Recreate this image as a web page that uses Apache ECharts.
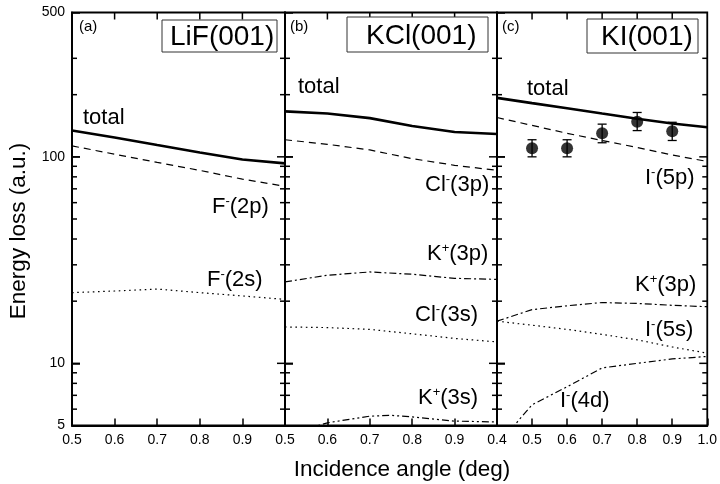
<!DOCTYPE html>
<html>
<head>
<meta charset="utf-8">
<script src="https://cdn.jsdelivr.net/npm/echarts@6/dist/echarts.min.js"></script>
<style>html,body{margin:0;padding:0;background:#fff}#c{width:720px;height:484px}</style>
</head>
<body>
<div id="c"></div>
<script>
// ---- data ----
const xA = [0.5, 0.6, 0.7, 0.8, 0.9, 1.0];
const totalA = [134, 124, 114, 105, 97, 93];
const f2p = [113, 103, 94, 86, 78, 72];
const f2s = [22.0, 22.4, 22.9, 22.0, 21.2, 20.4];

const xB = [0.5, 0.6, 0.7, 0.8, 0.9, 1.0];
const totalB = [166, 162, 154, 141, 132, 129];
const cl3p = [121, 115, 108, 98, 91, 86];
const k3pB = [24.8, 26.7, 27.7, 27.0, 25.8, 25.5];
const cl3s = [15.0, 14.9, 14.6, 13.9, 13.2, 12.7];
const xK3s = [0.5, 0.55, 0.6, 0.7, 0.75, 0.8, 0.9, 1.0];
const k3s = [4.4, 4.8, 5.15, 5.55, 5.6, 5.5, 5.25, 5.2];

const xC = [0.4, 0.5, 0.6, 0.7, 0.8, 0.9, 1.0];
const totalC = [193, 182, 172, 162, 153, 145, 139];
const i5p = [155, 142, 130, 120, 111, 102, 95];
const k3pC = [16.0, 18.2, 19.0, 19.7, 19.5, 19.1, 18.8];
const i5s = [16.0, 15.3, 14.6, 13.8, 13.0, 12.0, 11.2];
const i4d = [4.0, 6.3, 7.7, 9.5, 10.0, 10.5, 10.8];

const expX = [0.5, 0.6, 0.7, 0.8, 0.9];
const expY = [110, 110, 130, 148, 133];
const expLo = [100, 100, 117, 134, 120];
const expHi = [121, 121, 144, 164, 147];

const xMins = [0.5, 0.5, 0.4];
const xMaxs = [1.0, 1.0, 1.0];
const xInnerTicks = [[0.6, 0.7, 0.8, 0.9], [0.6, 0.7, 0.8, 0.9], [0.5, 0.6, 0.7, 0.8, 0.9]];
const yMin = 5, yMax = 500;
const majorYTicks = [10, 100];
const minorYTicks = [6, 7, 8, 9, 20, 30, 40, 50, 60, 70, 80, 90, 200, 300];

// ---- layout / style ----
const FONT = 'Liberation Sans, Arial, Helvetica, sans-serif';
const gridDefs = [
  {left: 72, top: 12.5, width: 213, height: 413},
  {left: 285, top: 12.5, width: 212, height: 413},
  {left: 497, top: 12.5, width: 213, height: 413}
].map(g => Object.assign(g, {show: true, borderColor: '#000', borderWidth: 1.8, backgroundColor: 'transparent'}));
const frame = {show: true, onZero: false, lineStyle: {color: '#000', width: 1.8}};
const majorTick = (len) => ({show: true, inside: true, length: len, lineStyle: {color: '#000', width: 1.5}});

const xAxes = [], yAxes = [];
for (let i = 0; i < 3; i++) {
  xAxes.push({
    type: 'value', gridIndex: i, position: 'bottom', min: xMins[i], max: xMaxs[i], interval: 0.1,
    axisLine: frame, axisTick: majorTick(7),
    axisLabel: {color: '#000', fontSize: 14, fontFamily: FONT, margin: 8,
      showMaxLabel: i === 2, formatter: v => v.toFixed(1)},
    splitLine: {show: false}
  });
  yAxes.push({
    type: 'log', logBase: 10, gridIndex: i, position: 'left', min: yMin, max: yMax,
    axisLine: frame, axisTick: majorTick(8),
    axisLabel: {show: i === 0, color: '#000', fontSize: 14, fontFamily: FONT, margin: 7},
    splitLine: {show: false}
  });
}

function zip(xs, ys) { return xs.map((x, k) => [x, ys[k]]); }
function line(g, xs, ys, width, dash) {
  return {
    type: 'line', xAxisIndex: g, yAxisIndex: g, data: zip(xs, ys),
    showSymbol: false, symbol: 'none', clip: true, silent: true,
    lineStyle: {color: '#000', width: width, type: dash || 'solid'}
  };
}
const DASH = [7, 5], DOT = [1.6, 3.6], DASHDOT = [7, 3, 2, 3], DASHDOTDOT = [7, 3, 2, 3, 2, 3];

const series = [
  line(0, xA, totalA, 2.6), line(0, xA, f2p, 1.2, DASH), line(0, xA, f2s, 1.2, DOT),
  line(1, xB, totalB, 2.6), line(1, xB, cl3p, 1.2, DASH), line(1, xB, k3pB, 1.2, DASHDOT),
  line(1, xB, cl3s, 1.2, DOT), line(1, xK3s, k3s, 1.2, DASHDOTDOT),
  line(2, xC, totalC, 2.6), line(2, xC, i5p, 1.2, DASH), line(2, xC, k3pC, 1.2, DASHDOT),
  line(2, xC, i5s, 1.2, DOT), line(2, xC, i4d, 1.2, DASHDOTDOT),
  {
    type: 'scatter', xAxisIndex: 2, yAxisIndex: 2, data: zip(expX, expY),
    symbol: 'circle', symbolSize: 12, itemStyle: {color: '#000'}, silent: true, z: 5
  },
  {
    type: 'custom', xAxisIndex: 2, yAxisIndex: 2, silent: true, z: 4,
    data: expX.map((x, k) => [x, expLo[k], expHi[k]]),
    renderItem: function (params, api) {
      const p1 = api.coord([api.value(0), api.value(1)]);
      const p2 = api.coord([api.value(0), api.value(2)]);
      const st = {stroke: '#000', lineWidth: 1.3};
      return {type: 'group', children: [
        {type: 'line', shape: {x1: p1[0], y1: p1[1], x2: p2[0], y2: p2[1]}, style: st},
        {type: 'line', shape: {x1: p1[0] - 4.5, y1: p1[1], x2: p1[0] + 4.5, y2: p1[1]}, style: st},
        {type: 'line', shape: {x1: p2[0] - 4.5, y1: p2[1], x2: p2[0] + 4.5, y2: p2[1]}, style: st}
      ]};
    }
  }
];
// frame ticks through each panel's scales: y ticks on left & right edges, x ticks on top edge
for (let i = 0; i < 3; i++) {
  const yTickData = majorYTicks.map(v => [xMins[i], v, xMaxs[i], 8])
    .concat(minorYTicks.map(v => [xMins[i], v, xMaxs[i], 5]));
  series.push({
    type: 'custom', xAxisIndex: i, yAxisIndex: i, z: 6,
    data: yTickData,
    renderItem: function (params, api) {
      const pL = api.coord([api.value(0), api.value(1)]);
      const pR = api.coord([api.value(2), api.value(1)]);
      const L = api.value(3);
      return {type: 'group', children: [
        {type: 'line', shape: {x1: pL[0], y1: pL[1], x2: pL[0] + L, y2: pL[1]},
          style: {stroke: '#000', lineWidth: 1.5}},
        {type: 'line', shape: {x1: pR[0] - L, y1: pR[1], x2: pR[0], y2: pR[1]},
          style: {stroke: '#000', lineWidth: 1.5}}
      ]};
    }
  });
  series.push({
    type: 'custom', xAxisIndex: i, yAxisIndex: i, z: 6,
    data: xInnerTicks[i].map(x => [x, yMax]),
    renderItem: function (params, api) {
      const p = api.coord([api.value(0), api.value(1)]);
      return {type: 'line', shape: {x1: p[0], y1: p[1], x2: p[0], y2: p[1] + 7},
        style: {stroke: '#000', lineWidth: 1.5}};
    }
  });
}

// ---- annotations ----
const rich = {
  m: {fontSize: 22, fontFamily: FONT, fill: '#000', color: '#000', lineHeight: 24},
  s: {fontSize: 13, fontFamily: FONT, fill: '#000', color: '#000', verticalAlign: 'top', lineHeight: 13}
};
function lab(x, y, base, sup, rest) {
  return {
    type: 'text', x: x, y: y, silent: true, z: 10,
    style: {
      text: '{m|' + base + '}{s|' + sup + '}{m|' + rest + '}',
      rich: rich, align: 'left', verticalAlign: 'middle'
    }
  };
}
function txt(x, y, s, size, align, rot) {
  return {
    type: 'text', x: x, y: y, rotation: rot || 0, silent: true, z: 10,
    style: {text: s, fontSize: size, fontFamily: FONT, fill: '#000',
      align: align || 'left', verticalAlign: 'middle'}
  };
}
function box(x, y, w, h) {
  return {type: 'rect', shape: {x: x, y: y, width: w, height: h}, silent: true, z: 9,
    style: {fill: '#fff', stroke: '#333', lineWidth: 1}};
}

const graphic = [
  box(162, 20, 115, 32), txt(170, 37, 'LiF(001)', 28),
  box(347, 17, 141, 35), txt(366, 36, 'KCl(001)', 28),
  box(587, 19, 111, 34), txt(601, 37, 'KI(001)', 28),
  txt(79, 27, '(a)', 15), txt(290, 27, '(b)', 15), txt(502, 27, '(c)', 15),
  txt(83, 118, 'total', 22), txt(298, 87, 'total', 22), txt(527, 89, 'total', 22),
  lab(212, 207, 'F', '-', '(2p)'),
  lab(207, 280, 'F', '-', '(2s)'),
  lab(425, 185, 'Cl', '-', '(3p)'),
  lab(427, 254, 'K', '+', '(3p)'),
  lab(415, 315, 'Cl', '-', '(3s)'),
  lab(418, 398, 'K', '+', '(3s)'),
  lab(645, 178, 'I', '-', '(5p)'),
  lab(635, 285, 'K', '+', '(3p)'),
  lab(645, 330, 'I', '-', '(5s)'),
  lab(560, 401, 'I', '-', '(4d)'),
  txt(402, 470, 'Incidence angle (deg)', 22.5, 'center'),
  txt(19, 231, 'Energy loss (a.u.)', 22.5, 'center', Math.PI / 2)
];

const chart = echarts.init(document.getElementById('c'), null, {renderer: 'canvas'});
chart.setOption({
  animation: false,
  backgroundColor: '#fff',
  grid: gridDefs,
  xAxis: xAxes,
  yAxis: yAxes,
  series: series,
  graphic: graphic
});
</script>
</body>
</html>
